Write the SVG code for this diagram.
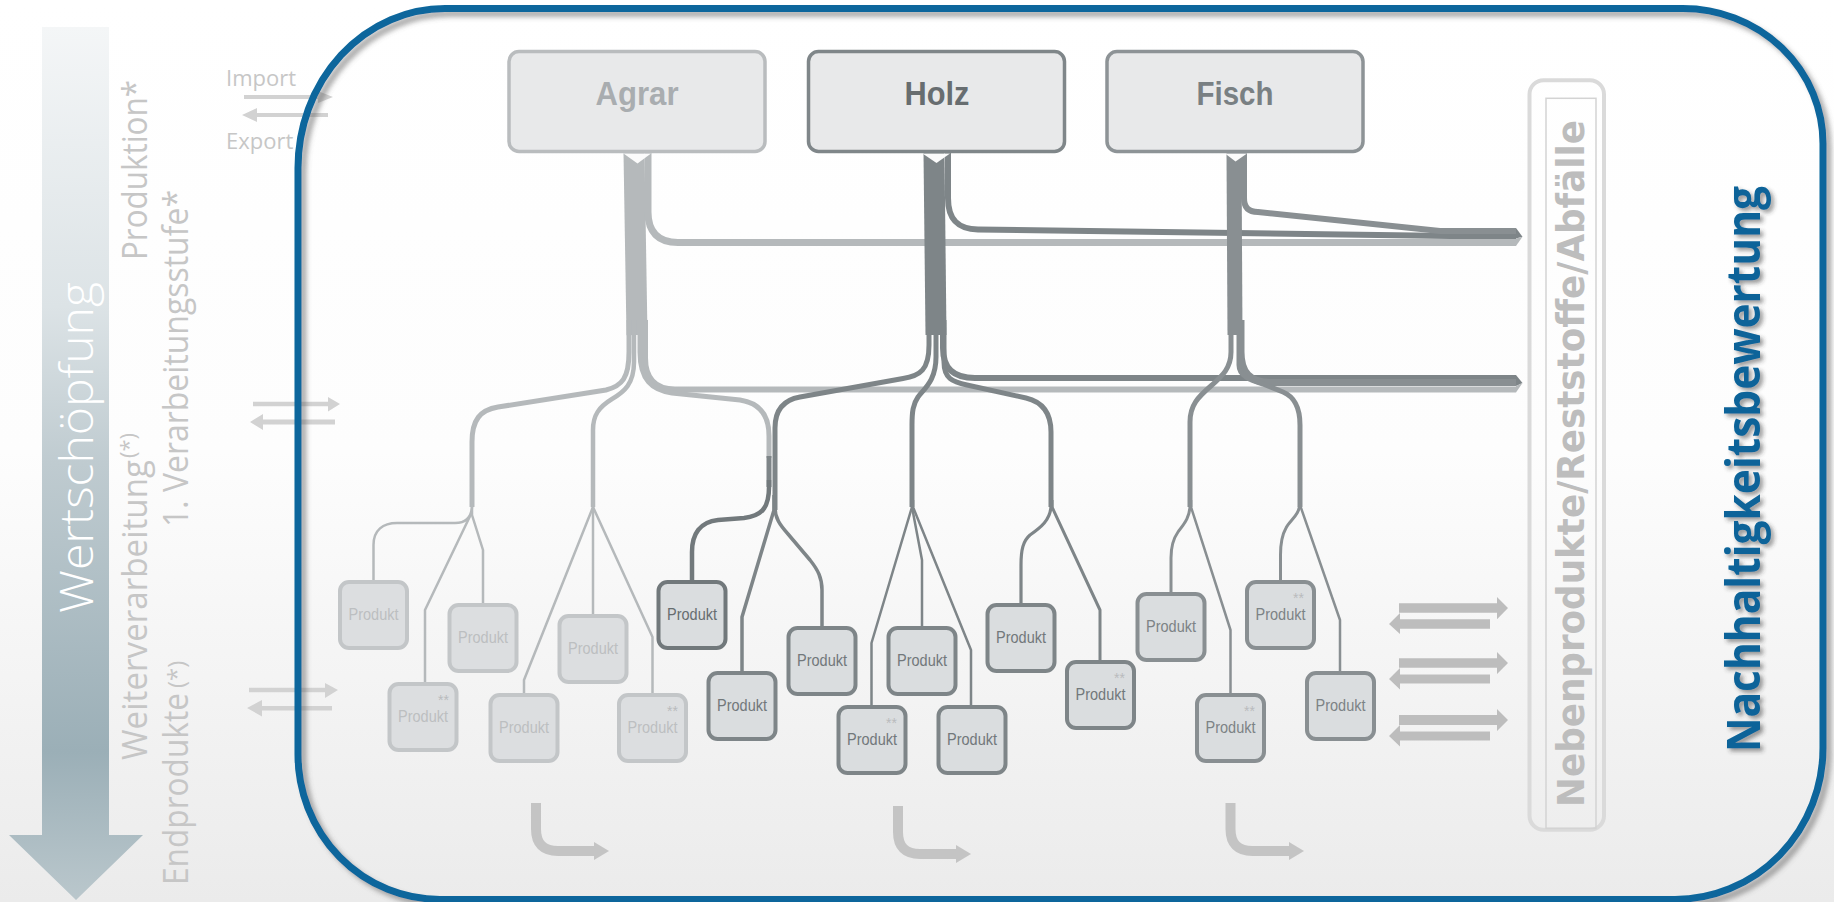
<svg xmlns="http://www.w3.org/2000/svg" width="1834" height="902" viewBox="0 0 1834 902">
  <defs>
    <linearGradient id="bg" x1="0" y1="0" x2="0" y2="902" gradientUnits="userSpaceOnUse">
      <stop offset="0" stop-color="#ffffff"/>
      <stop offset="0.5" stop-color="#fdfdfd"/>
      <stop offset="1" stop-color="#ebebeb"/>
    </linearGradient>
    <linearGradient id="chain" x1="0" y1="27" x2="0" y2="900" gradientUnits="userSpaceOnUse">
      <stop offset="0" stop-color="#f4f6f7"/>
      <stop offset="0.32" stop-color="#dce3e6"/>
      <stop offset="0.5" stop-color="#bfcbd0"/>
      <stop offset="0.83" stop-color="#9bafb7"/>
      <stop offset="1" stop-color="#bac7cc"/>
    </linearGradient>
    <filter id="frameShadow" x="-3%" y="-3%" width="106%" height="106%">
      <feGaussianBlur in="SourceAlpha" stdDeviation="2.5"/>
      <feOffset dx="5" dy="5" result="off"/>
      <feFlood flood-color="#5a5a5a" flood-opacity="0.5"/>
      <feComposite in2="off" operator="in"/>
      <feMerge><feMergeNode/><feMergeNode in="SourceGraphic"/></feMerge>
    </filter>
    <filter id="textShadow" x="-10%" y="-10%" width="120%" height="120%">
      <feGaussianBlur in="SourceAlpha" stdDeviation="2"/>
      <feOffset dx="3" dy="3" result="off"/>
      <feFlood flood-color="#333" flood-opacity="0.5"/>
      <feComposite in2="off" operator="in"/>
      <feMerge><feMergeNode/><feMergeNode in="SourceGraphic"/></feMerge>
    </filter>
  </defs>
  <style>
    .side { font-family: "Open Sans", "Liberation Sans", sans-serif; fill: #c6c6c6; }
    .io { fill: #d2d2d2; }
    .src rect { fill: #e8e9ea; stroke-width: 3.5; }
    .src text { font-family: "Liberation Sans", Arial, sans-serif; font-weight: bold; font-size: 34px; text-anchor: middle; }
    .prod rect { fill: #dadddf; stroke-width: 4; }
    .prod text { font-family: "Liberation Sans", Arial, sans-serif; font-size: 17px; text-anchor: middle; }
    .prod text.ast { font-size: 14px; text-anchor: start; fill: #b9bbbd; }
    .agr rect { stroke: #c3c6c8; fill: #dcdee0; }
    .agr text { fill: #bcbfc1; }
    .hz0 rect { stroke: #71787b; }
    .hz0 text { fill: #676d70; }
    .hz rect { stroke: #7e8588; }
    .hz text { fill: #72787b; }
    .fi rect { stroke: #898f92; }
    .fi text { fill: #7d8386; }
    #connectors path { fill: none; stroke-linejoin: round; }
    .la { stroke: #b5b9bb; }
    .ho { stroke: #7e8588; }
    .fs { stroke: #898f92; }
    .flowarrow { fill: #bdbdbd; }
    .bend path { fill: none; stroke: #c4c4c4; stroke-width: 10; }
    .bend polygon { fill: #c4c4c4; }
  </style>

  <rect width="1834" height="902" fill="url(#bg)"/>

  <!-- value chain arrow and stage labels -->
  <g id="value-chain">
    <polygon points="42,27 109,27 109,835 143,835 76,900 9,835 42,835" fill="url(#chain)"/>
    <text transform="translate(93,613) rotate(-90)" font-family="'Open Sans', 'Liberation Sans', sans-serif" font-weight="300" font-size="46" fill="#ffffff" textLength="331" lengthAdjust="spacingAndGlyphs">Wertschöpfung</text>
  </g>
  <g id="stage-labels" class="side">
    <text transform="translate(147,260) rotate(-90)" font-size="34" textLength="180" lengthAdjust="spacingAndGlyphs">Produktion*</text>
    <text transform="translate(188,527) rotate(-90)" font-size="34" textLength="337" lengthAdjust="spacingAndGlyphs">1. Verarbeitungsstufe*</text>
    <text transform="translate(147,760) rotate(-90)" font-size="34" textLength="300" lengthAdjust="spacingAndGlyphs">Weiterverarbeitung</text>
    <text transform="translate(136,458) rotate(-90)" font-size="22">(*)</text>
    <text transform="translate(188,885) rotate(-90)" font-size="34" textLength="192" lengthAdjust="spacingAndGlyphs">Endprodukte</text>
    <text transform="translate(185,688) rotate(-90)" font-size="24">(*)</text>
    <text x="226" y="86" font-size="22">Import</text>
    <text x="226" y="149" font-size="22">Export</text>
  </g>

  <!-- import / export arrows -->
  <g id="trade-arrows" class="io">
    <polygon points="244,95 318,95 318,91 333,97 318,103 318,99 244,99"/>
    <polygon points="328,113 257,113 257,108 242,115 257,122 257,117 328,117"/>
    <polygon points="253,401.7 328,401.7 328,397 340,404 328,411.5 328,406.3 253,406.3"/>
    <polygon points="335,419.5 263,419.5 263,414 250,422 263,430 263,424.5 335,424.5"/>
    <polygon points="249,687.7 325,687.7 325,683 338,690 325,698 325,692.3 249,692.3"/>
    <polygon points="332,706 262,706 262,700 247,708 262,716.5 262,710.6 332,710.6"/>
  </g>

  <!-- system boundary -->
  <g id="frame" filter="url(#frameShadow)">
    <path d="M445,8.5 H1683 A140,135 0 0 1 1823,143.5 V748 A148,151.5 0 0 1 1675,899.5 H440 A142,145 0 0 1 298,754.5 V168 A147,159.5 0 0 1 445,8.5 Z" fill="none" stroke="#0a669c" stroke-width="7"/>
  </g>

  <!-- by-products column -->
  <g id="byproducts">
    <rect x="1529.5" y="80.3" width="74.5" height="749.4" rx="14" fill="none" stroke="#dadada" stroke-width="4"/>
    <rect x="1546" y="98.3" width="50" height="730" fill="none" stroke="#d3d3d3" stroke-width="1.5"/>
    <text transform="translate(1584,807) rotate(-90)" font-family="'DejaVu Sans', Verdana, sans-serif" font-weight="bold" font-size="37" fill="#bdbdbd" textLength="687" lengthAdjust="spacingAndGlyphs">Nebenprodukte/Reststoffe/Abfälle</text>
  </g>

  <!-- flows -->
  <g id="connectors">
    <!-- Agrar -->
    <path class="la" d="M634,153 L637,335" stroke-width="21"/>
    <path class="la" d="M648,153 V212 C648,232 658,242.5 678,242.5 H1516" stroke-width="7"/>
    <path class="la" d="M645,320 V358 C645,378 655,389.5 675,389.5 H1516" stroke-width="6"/>
    <path class="la" d="M629,320 V352 C629,378 622,386 606,390 L498,407 C480,410 472,420 472,442 V507" stroke-width="5"/>
    <path class="la" d="M634,320 V362 C634,384 624,392 612,399 C599,407 593,415 593,430 V507" stroke-width="4.5"/>
    <path class="la" d="M640,320 V352 C640,380 652,390 672,393 L740,400 C760,403 769,416 769,436 V458" stroke-width="5"/>
    <path class="la" d="M472,500 V505 C472,518 465,523 455,523 L397,523 C383,523 373.5,530 373.5,545 V582" stroke-width="2.5"/>
    <path class="la" d="M472,500 V515 L483,550 V605" stroke-width="2.5"/>
    <path class="la" d="M472,512 L425,610 V684" stroke-width="2.5"/>
    <path class="la" d="M593,500 V507 L524,680 V695" stroke-width="2.5"/>
    <path class="la" d="M593,500 V616" stroke-width="2.5"/>
    <path class="la" d="M593,507 L652.5,637 V695" stroke-width="2.5"/>
    <!-- Holz -->
    <path class="ho" d="M934,153 L936,335" stroke-width="21"/>
    <path class="ho" d="M948,153 V198 C948,220 958,229 978,229.5 L1450,236 H1516" stroke-width="6"/>
    <path class="ho" d="M943,320 V348 C943,368 953,378 975,378 H1516" stroke-width="6"/>
    <path class="ho" d="M929,320 V345 C929,370 920,376 903,378.5 L800,397 C783,400 775,410 775,428 V510" stroke-width="5"/>
    <path class="ho" d="M936,320 V357 C936,380 925,388 918,397 C913,404 912,412 912,425 V507" stroke-width="5"/>
    <path class="ho" d="M944,320 V362 C944,378 952,382 967,385 L1026,398 C1043,402 1051,414 1051,432 V507" stroke-width="5"/>
    <path class="ho" d="M769,456 V487" stroke-width="5"/>
    <path d="M769,480 V487 C769,510 760,516 744,518 L718,520 C700,522 692,534 692,552 V582" stroke="#72797c" stroke-width="4.5"/>
    <path class="ho" d="M774,495 V510 L742,617 V673" stroke-width="3.5"/>
    <path class="ho" d="M775,495 V508 C775,518 780,525 788,534 L810,560 C818,570 822,578 822,590 V628" stroke-width="3.5"/>
    <path class="ho" d="M912,500 V507 L871.5,643 V707" stroke-width="2.5"/>
    <path class="ho" d="M912,500 V507 L922,560 V628" stroke-width="2.5"/>
    <path class="ho" d="M913,500 V507 L971,650 V707" stroke-width="2.5"/>
    <path class="ho" d="M1051,495 V505 C1051,520 1040,528 1030,535 C1023,541 1021,550 1021,565 V605" stroke-width="3.2"/>
    <path class="ho" d="M1052,500 V507 L1100,610 V662" stroke-width="3"/>
    <!-- Fisch -->
    <path class="fs" d="M1234,153 L1235,335" stroke-width="15"/>
    <path class="fs" d="M1244,153 V198 C1244,208 1249,212 1258,212 L1440,231 H1516" stroke-width="6"/>
    <path class="fs" d="M1241,320 V352 C1241,372 1250,382.5 1270,382.5 H1516" stroke-width="7"/>
    <path class="fs" d="M1231,320 V352 C1231,368 1222,376 1212,385 C1198,397 1190,405 1190,422 V507" stroke-width="5"/>
    <path class="fs" d="M1239,320 V365 C1239,376 1250,380 1263,384 L1283,392 C1295,397 1300,408 1300,425 V507" stroke-width="5"/>
    <path class="fs" d="M1190,495 V505 C1190,518 1183,525 1178,532 C1173,539 1171,546 1171,558 V594" stroke-width="3"/>
    <path class="fs" d="M1191,500 V507 L1230.5,630 V695" stroke-width="2.5"/>
    <path class="fs" d="M1300,495 V502 C1300,515 1290,520 1286,528 C1282,535 1280.5,544 1280.5,555 V582" stroke-width="3"/>
    <path class="fs" d="M1300,500 V505 L1340,620 V673" stroke-width="2.5"/>
    <!-- arrow tips into the by-products column -->
    <polygon points="1516,228 1522.5,236.7 1516,238.5" fill="#7e8588"/>
    <polygon points="1516,238.5 1522.5,236.7 1516,246" fill="#b5b9bb"/>
    <polygon points="1516,375 1522.5,383 1516,386" fill="#7e8588"/>
    <polygon points="1516,386 1522.5,383 1516,392.5" fill="#b5b9bb"/>
    <!-- notches at the source boxes -->
    <polygon points="623.5,153.5 651,153.5 637.5,163.5" fill="#fbfbfb"/>
    <polygon points="922.5,153.5 950,153.5 936.5,163" fill="#fbfbfb"/>
    <polygon points="1225,153.5 1247,153.5 1235.5,161.5" fill="#fbfbfb"/>
  </g>

  <!-- raw material sources -->
  <g id="src-agrar" class="src">
    <rect x="509" y="51.5" width="256" height="100" rx="10" stroke="#b9bcbe"/>
    <text x="637" y="105" fill="#a9adb0" textLength="83" lengthAdjust="spacingAndGlyphs">Agrar</text>
  </g>
  <g id="src-holz" class="src">
    <rect x="808.5" y="51.5" width="256" height="100" rx="10" stroke="#7f8689"/>
    <text x="937" y="105" fill="#676d70" textLength="65" lengthAdjust="spacingAndGlyphs">Holz</text>
  </g>
  <g id="src-fisch" class="src">
    <rect x="1107" y="51.5" width="256" height="100" rx="10" stroke="#8d9396"/>
    <text x="1235" y="105" fill="#798083" textLength="77" lengthAdjust="spacingAndGlyphs">Fisch</text>
  </g>

  <!-- products -->
  <g id="p1" class="prod agr"><rect x="340" y="582" width="67" height="66" rx="9"/><text x="373.5" y="620" textLength="50" lengthAdjust="spacingAndGlyphs">Produkt</text></g>
  <g id="p2" class="prod agr"><rect x="449.5" y="605" width="67" height="66" rx="9"/><text x="483" y="643" textLength="50" lengthAdjust="spacingAndGlyphs">Produkt</text></g>
  <g id="p3" class="prod agr"><rect x="389.5" y="684" width="67" height="66" rx="9"/><text x="423" y="722" textLength="50" lengthAdjust="spacingAndGlyphs">Produkt</text><text class="ast" x="438" y="705">**</text></g>
  <g id="p4" class="prod agr"><rect x="559.5" y="616" width="67" height="66" rx="9"/><text x="593" y="654" textLength="50" lengthAdjust="spacingAndGlyphs">Produkt</text></g>
  <g id="p5" class="prod agr"><rect x="490.5" y="695" width="67" height="66" rx="9"/><text x="524" y="733" textLength="50" lengthAdjust="spacingAndGlyphs">Produkt</text></g>
  <g id="p6" class="prod agr"><rect x="619" y="695" width="67" height="66" rx="9"/><text x="652.5" y="733" textLength="50" lengthAdjust="spacingAndGlyphs">Produkt</text><text class="ast" x="667" y="716">**</text></g>
  <g id="p7" class="prod hz0"><rect x="658.5" y="582" width="67" height="66" rx="9"/><text x="692" y="620" textLength="50" lengthAdjust="spacingAndGlyphs">Produkt</text></g>
  <g id="p8" class="prod hz"><rect x="708.5" y="673" width="67" height="66" rx="9"/><text x="742" y="711" textLength="50" lengthAdjust="spacingAndGlyphs">Produkt</text></g>
  <g id="p9" class="prod hz"><rect x="788.5" y="628" width="67" height="66" rx="9"/><text x="822" y="666" textLength="50" lengthAdjust="spacingAndGlyphs">Produkt</text></g>
  <g id="p10" class="prod hz"><rect x="888.5" y="628" width="67" height="66" rx="9"/><text x="922" y="666" textLength="50" lengthAdjust="spacingAndGlyphs">Produkt</text></g>
  <g id="p11" class="prod hz"><rect x="838.5" y="707" width="67" height="66" rx="9"/><text x="872" y="745" textLength="50" lengthAdjust="spacingAndGlyphs">Produkt</text><text class="ast" x="886" y="728">**</text></g>
  <g id="p12" class="prod hz"><rect x="938.5" y="707" width="67" height="66" rx="9"/><text x="972" y="745" textLength="50" lengthAdjust="spacingAndGlyphs">Produkt</text></g>
  <g id="p13" class="prod hz"><rect x="987.5" y="605" width="67" height="66" rx="9"/><text x="1021" y="643" textLength="50" lengthAdjust="spacingAndGlyphs">Produkt</text></g>
  <g id="p14" class="prod hz"><rect x="1067" y="662" width="67" height="66" rx="9"/><text x="1100.5" y="700" textLength="50" lengthAdjust="spacingAndGlyphs">Produkt</text><text class="ast" x="1114" y="683">**</text></g>
  <g id="p15" class="prod fi"><rect x="1137.5" y="594" width="67" height="66" rx="9"/><text x="1171" y="632" textLength="50" lengthAdjust="spacingAndGlyphs">Produkt</text></g>
  <g id="p16" class="prod fi"><rect x="1247" y="582" width="67" height="66" rx="9"/><text x="1280.5" y="620" textLength="50" lengthAdjust="spacingAndGlyphs">Produkt</text><text class="ast" x="1293" y="603">**</text></g>
  <g id="p17" class="prod fi"><rect x="1197" y="695" width="67" height="66" rx="9"/><text x="1230.5" y="733" textLength="50" lengthAdjust="spacingAndGlyphs">Produkt</text><text class="ast" x="1244" y="716">**</text></g>
  <g id="p18" class="prod fi"><rect x="1307" y="673" width="67" height="66" rx="9"/><text x="1340.5" y="711" textLength="50" lengthAdjust="spacingAndGlyphs">Produkt</text></g>

  <!-- product exchange arrows -->
  <g id="product-arrows" class="flowarrow">
    <polygon points="1399,603.3 1497,603.3 1497,597 1508,608 1497,619.3 1497,612.7 1399,612.7"/>
    <polygon points="1490,619.3 1400,619.3 1400,613 1389,624 1400,634 1400,628.7 1490,628.7"/>
    <polygon points="1399,658.3 1497,658.3 1497,652 1508,663 1497,674 1497,667.7 1399,667.7"/>
    <polygon points="1490,674.5 1400,674.5 1400,668 1389,679 1400,689.5 1400,683.5 1490,683.5"/>
    <polygon points="1399,715 1497,715 1497,709 1508,720 1497,731 1497,725 1399,725"/>
    <polygon points="1490,731.5 1400,731.5 1400,725 1389,736 1400,746.5 1400,740.5 1490,740.5"/>
  </g>

  <!-- recycling bends -->
  <g id="bend-1" class="bend"><path d="M536,803 V829 Q536,851 558,851 H595"/><polygon points="594,842 609,851 594,860"/></g>
  <g id="bend-2" class="bend"><path d="M898,806 V832 Q898,854 920,854 H957"/><polygon points="956,845 971,854 956,863"/></g>
  <g id="bend-3" class="bend"><path d="M1230.5,803 V829 Q1230.5,851 1252.5,851 H1290"/><polygon points="1289,842 1304,851 1289,860"/></g>

  <g id="assessment" filter="url(#textShadow)">
    <text transform="translate(1760,752) rotate(-90)" font-family="'Open Sans', 'Liberation Sans', sans-serif" font-weight="bold" font-size="46" fill="#0a6499" textLength="566" lengthAdjust="spacingAndGlyphs">Nachhaltigkeitsbewertung</text>
  </g>
</svg>
